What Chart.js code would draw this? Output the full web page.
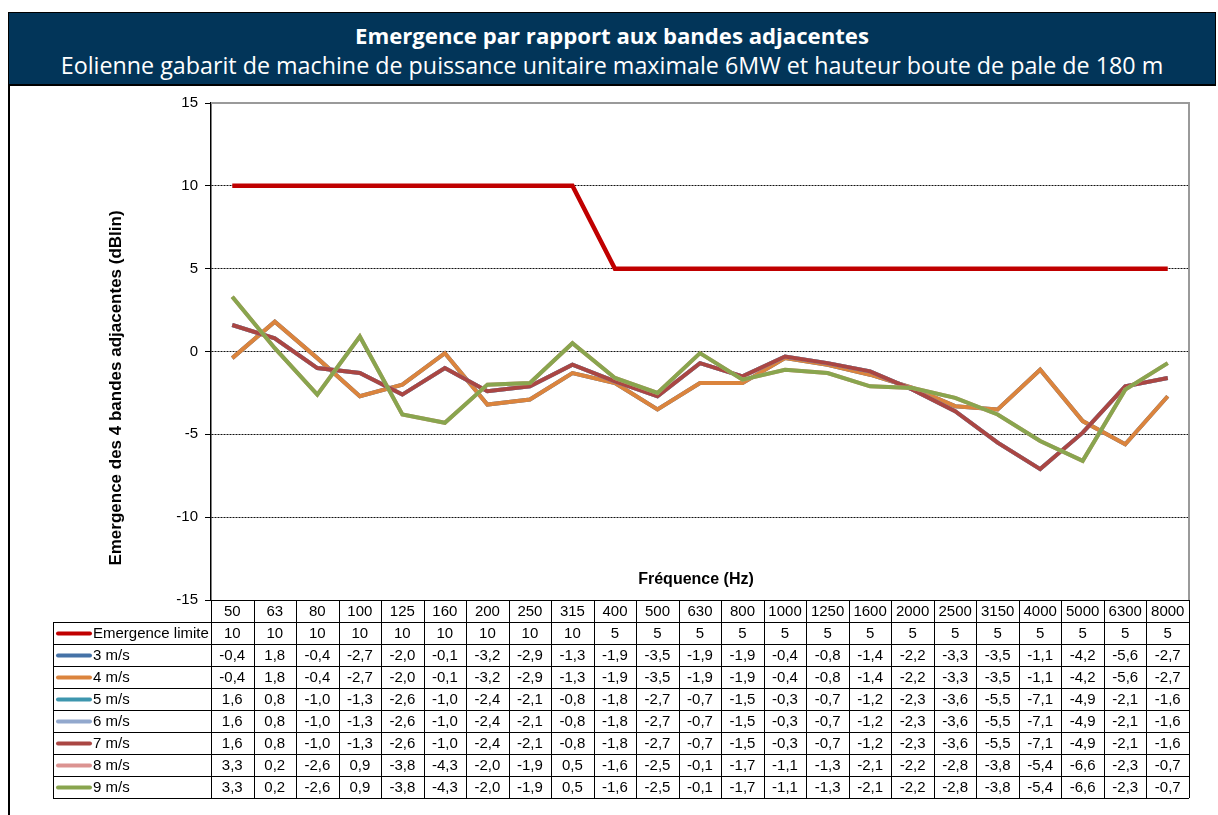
<!DOCTYPE html>
<html>
<head>
<meta charset="utf-8">
<script src="https://cdn.jsdelivr.net/npm/chart.js@4.4.1/dist/chart.umd.min.js"></script>
<style>
  body { margin: 0; background: #fff; width: 1218px; height: 815px; overflow: hidden; position: relative; }
  #frameLeft { position: absolute; left: 8px; top: 12px; width: 2px; height: 803px; background: #000; }
  #banner { position: absolute; left: 8px; top: 12px; width: 1206px; height: 71px; background: #023559;
            border: 1px solid #000; border-bottom: 2px solid #000; color: #fff; font-family: "Open Sans", sans-serif; }
  .line { position: absolute; left: 0; width: 100%; text-align: center; white-space: nowrap; }
  .line span { display: inline-block; }
  #title { top: 8px; font-weight: bold; font-size: 20px; line-height: 28px; }
  #subtitle { top: 38px; font-size: 20px; line-height: 28px; }
  #chart { position: absolute; left: 10px; top: 87px; }
</style>
</head>
<body>
<div id="frameLeft"></div>
<div id="banner">
  <div class="line" id="title"><span>Emergence par rapport aux bandes adjacentes</span></div>
  <div class="line" id="subtitle"><span>Eolienne gabarit de machine de puissance unitaire maximale 6MW et hauteur boute de pale de 180 m</span></div>
</div>
<canvas id="chart" width="1206" height="728"></canvas>
<script>
// frequency bands (Hz)
const freqs = ['50', '63', '80', '100', '125', '160', '200', '250', '315', '400', '500', '630',
  '800', '1000', '1250', '1600', '2000', '2500', '3150', '4000', '5000', '6300', '8000'];

const limite = [10, 10, 10, 10, 10, 10, 10, 10, 10, 5, 5, 5, 5, 5, 5, 5, 5, 5, 5, 5, 5, 5, 5];
const ms3 = [-0.4, 1.8, -0.4, -2.7, -2.0, -0.1, -3.2, -2.9, -1.3, -1.9, -3.5, -1.9, -1.9, -0.4, -0.8, -1.4, -2.2, -3.3, -3.5, -1.1, -4.2, -5.6, -2.7];
const ms4 = [-0.4, 1.8, -0.4, -2.7, -2.0, -0.1, -3.2, -2.9, -1.3, -1.9, -3.5, -1.9, -1.9, -0.4, -0.8, -1.4, -2.2, -3.3, -3.5, -1.1, -4.2, -5.6, -2.7];
const ms5 = [1.6, 0.8, -1.0, -1.3, -2.6, -1.0, -2.4, -2.1, -0.8, -1.8, -2.7, -0.7, -1.5, -0.3, -0.7, -1.2, -2.3, -3.6, -5.5, -7.1, -4.9, -2.1, -1.6];
const ms6 = [1.6, 0.8, -1.0, -1.3, -2.6, -1.0, -2.4, -2.1, -0.8, -1.8, -2.7, -0.7, -1.5, -0.3, -0.7, -1.2, -2.3, -3.6, -5.5, -7.1, -4.9, -2.1, -1.6];
const ms7 = [1.6, 0.8, -1.0, -1.3, -2.6, -1.0, -2.4, -2.1, -0.8, -1.8, -2.7, -0.7, -1.5, -0.3, -0.7, -1.2, -2.3, -3.6, -5.5, -7.1, -4.9, -2.1, -1.6];
const ms8 = [3.3, 0.2, -2.6, 0.9, -3.8, -4.3, -2.0, -1.9, 0.5, -1.6, -2.5, -0.1, -1.7, -1.1, -1.3, -2.1, -2.2, -2.8, -3.8, -5.4, -6.6, -2.3, -0.7];
const ms9 = [3.3, 0.2, -2.6, 0.9, -3.8, -4.3, -2.0, -1.9, 0.5, -1.6, -2.5, -0.1, -1.7, -1.1, -1.3, -2.1, -2.2, -2.8, -3.8, -5.4, -6.6, -2.3, -0.7];

const seriesNames = ['Emergence limite', '3 m/s', '4 m/s', '5 m/s', '6 m/s', '7 m/s', '8 m/s', '9 m/s'];
const seriesData = [limite, ms3, ms4, ms5, ms6, ms7, ms8, ms9];
const seriesColors = ['#C00000', '#4572A7', '#DB843D', '#3D96AE', '#92A8CD', '#AA4643', '#DB9391', '#89A54E'];

const yTitle = 'Emergence des 4 bandes adjacentes (dBlin)';
const xTitle = 'Fréquence (Hz)';

// fit banner text widths to the reference
function fitWidth(id, target) {
  const span = document.querySelector('#' + id + ' span');
  const w = span.getBoundingClientRect().width;
  const el = document.getElementById(id);
  el.style.fontSize = (20 * target / w).toFixed(2) + 'px';
}
fitWidth('title', 514);
fitWidth('subtitle', 1103);

const FONT = '"Liberation Sans", Arial, sans-serif';
Chart.defaults.font.family = FONT;
Chart.defaults.color = '#000';

function fmt(v, i) {
  return i === 0 ? String(v) : v.toFixed(1).replace('.', ',');
}

const tablePlugin = {
  id: 'dataTable',
  beforeDatasetsDraw(chart) {
    const { ctx, chartArea: a } = chart;
    ctx.save();
    ctx.strokeStyle = '#9a9a9a';
    ctx.lineWidth = 2;
    ctx.beginPath();
    ctx.moveTo(a.left, a.top);
    ctx.lineTo(a.right, a.top);
    ctx.lineTo(a.right, a.bottom);
    ctx.stroke();
    ctx.restore();
  },
  afterDraw(chart) {
    const { ctx, chartArea: a, scales: { x } } = chart;
    const n = freqs.length;
    const colW = (a.right - a.left) / n;
    const rowH = 22;
    const headTop = a.bottom;
    const bodyTop = headTop + 22;
    const legLeft = 43;
    ctx.save();
    ctx.font = '15px ' + FONT;
    ctx.textAlign = 'center';
    ctx.textBaseline = 'middle';
    ctx.fillStyle = '#000';

    // header row + grid of the table
    ctx.strokeStyle = '#000';
    ctx.lineWidth = 1;
    ctx.beginPath();
    ctx.moveTo(a.left, headTop + 0.5); ctx.lineTo(a.right, headTop + 0.5);
    ctx.moveTo(legLeft, bodyTop + 0.5); ctx.lineTo(a.right, bodyTop + 0.5);
    for (let k = 0; k <= n; k++) {
      const xx = Math.round(a.left + k * colW) + 0.5;
      ctx.moveTo(xx, headTop); ctx.lineTo(xx, bodyTop + seriesNames.length * rowH);
    }
    for (let r = 1; r <= seriesNames.length; r++) {
      const yy = Math.round(bodyTop + r * rowH) + 0.5;
      ctx.moveTo(legLeft, yy); ctx.lineTo(a.right, yy);
    }
    ctx.moveTo(legLeft + 0.5, bodyTop); ctx.lineTo(legLeft + 0.5, bodyTop + seriesNames.length * rowH);
    ctx.stroke();

    freqs.forEach((f, i) => {
      ctx.fillText(f, x.getPixelForValue(i), headTop + 11.5);
    });

    seriesNames.forEach((name, r) => {
      const cy = bodyTop + r * rowH + 11.5;
      ctx.strokeStyle = seriesColors[r];
      ctx.lineWidth = 4;
      ctx.lineCap = 'round';
      ctx.beginPath();
      ctx.moveTo(48, cy); ctx.lineTo(80, cy);
      ctx.stroke();
      ctx.textAlign = 'left';
      ctx.fillText(name, 83, cy);
      ctx.textAlign = 'center';
      seriesData[r].forEach((v, i) => {
        ctx.fillText(fmt(v, r), x.getPixelForValue(i), cy);
      });
    });

    // axis titles
    ctx.font = 'bold 16px ' + FONT;
    ctx.fillText(xTitle, 686, 493);
    ctx.font = 'bold 17px ' + FONT;
    ctx.translate(106, 301);
    ctx.rotate(-Math.PI / 2);
    ctx.fillText(yTitle, 0, 0);
    ctx.restore();
  }
};

new Chart(document.getElementById('chart'), {
  type: 'line',
  data: {
    labels: freqs,
    datasets: seriesNames.map((name, i) => ({
      label: name,
      data: seriesData[i],
      borderColor: seriesColors[i],
      backgroundColor: seriesColors[i],
      borderWidth: i === 0 ? 4.5 : 4,
      pointRadius: 0,
      tension: 0,
      order: seriesNames.length - i,
    })),
  },
  options: {
    responsive: false,
    animation: false,
    layout: { padding: { left: 0, top: 16, right: 27, bottom: 215 } },
    plugins: { legend: { display: false }, tooltip: { enabled: false } },
    scales: {
      x: { display: false, offset: true },
      y: {
        min: -15,
        max: 15,
        ticks: { stepSize: 5, font: { size: 15 }, color: '#000', padding: 7 },
        grid: {
          color: c => (c.tick.value === 15 || c.tick.value === -15) ? 'rgba(0,0,0,0)' : '#111',
          tickColor: '#000',
          tickLength: 6,
          lineWidth: 1,
        },
        border: { display: true, color: '#000', width: 1.5, dash: [2, 1] },
        afterFit: scale => { scale.width = 201; },
      },
    },
  },
  plugins: [tablePlugin],
});
</script>
</body>
</html>
